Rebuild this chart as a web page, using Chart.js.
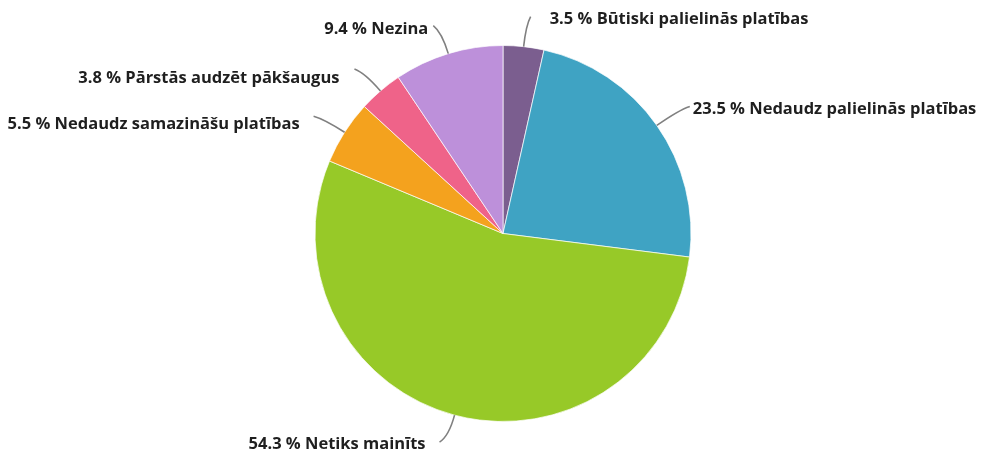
<!DOCTYPE html>
<html lang="lv">
<head>
  <meta charset="UTF-8">
  <title>Pākšaugu platības</title>
  <script src="https://cdn.jsdelivr.net/npm/chart.js"></script>
  <style>
    body {
      margin: 0;
      padding: 0;
      background: #ffffff;
    }
    #wrap {
      width: 984px;
      height: 459px;
    }
  </style>
</head>
<body>
  <div id="wrap">
    <canvas id="grafiks" width="984" height="459"></canvas>
  </div>

  <script>
    const kategorijas = [
      'Būtiski palielinās platības',
      'Nedaudz palielinās platības',
      'Netiks mainīts',
      'Nedaudz samazināšu platības',
      'Pārstās audzēt pākšaugus',
      'Nezina'
    ];
    const procenti = [3.5, 23.5, 54.3, 5.5, 3.8, 9.4];
    const krasas = ['#7b5e8f', '#3fa3c3', '#97c928', '#f4a21e', '#ef6389', '#bd90da'];

    // where each leader line ends (relative to the slice edge) and where its text sits
    const lidera = [
      { dx: 7,  dy: -30, tx: 19,  ty: 3, align: 'left' },
      { dx: 33, dy: -19, tx: 3,   ty: 3, align: 'left' },
      { dx: -15, dy: 27, tx: -14, ty: 2, align: 'right' },
      { dx: -31, dy: -16, tx: -14, ty: 8, align: 'right' },
      { dx: -26, dy: -22, tx: -15, ty: 9, align: 'right' },
      { dx: -15, dy: -28, tx: -5,  ty: 4, align: 'right' }
    ];

    const etiketes = {
      id: 'etiketes',
      afterDatasetsDraw(chart) {
        const ctx = chart.ctx;
        const arcs = chart.getDatasetMeta(0).data;
        ctx.save();
        arcs.forEach((arc, i) => {
          const p = arc.getProps(['x', 'y', 'startAngle', 'endAngle', 'outerRadius'], true);
          const mid = (p.startAngle + p.endAngle) / 2;
          const sx = p.x + Math.cos(mid) * p.outerRadius;
          const sy = p.y + Math.sin(mid) * p.outerRadius;
          const o = lidera[i];
          const ex = sx + o.dx;
          const ey = sy + o.dy;
          const len = Math.hypot(o.dx, o.dy);
          const cx = sx + Math.cos(mid) * len * 0.7;
          const cy = sy + Math.sin(mid) * len * 0.7;

          ctx.beginPath();
          ctx.moveTo(sx, sy);
          ctx.quadraticCurveTo(cx, cy, ex, ey);
          ctx.strokeStyle = '#808080';
          ctx.lineWidth = 1.6;
          ctx.stroke();

          ctx.fillStyle = '#1f1f1f';
          ctx.font = 'bold 16.5px "Open Sans"';
          ctx.textAlign = o.align;
          ctx.textBaseline = 'middle';
          ctx.fillText(procenti[i].toFixed(1) + ' % ' + kategorijas[i], ex + o.tx, ey + o.ty);
        });
        ctx.restore();
      }
    };

    new Chart(document.getElementById('grafiks'), {
      type: 'pie',
      data: {
        labels: kategorijas,
        datasets: [{
          data: procenti,
          backgroundColor: krasas,
          borderColor: 'rgba(255,255,255,0.7)',
          borderWidth: 1
        }]
      },
      options: {
        responsive: false,
        animation: false,
        layout: {
          padding: { left: 22, right: 0, top: 45, bottom: 37 }
        },
        plugins: {
          legend: { display: false },
          tooltip: { enabled: false }
        }
      },
      plugins: [etiketes]
    });
  </script>
</body>
</html>
